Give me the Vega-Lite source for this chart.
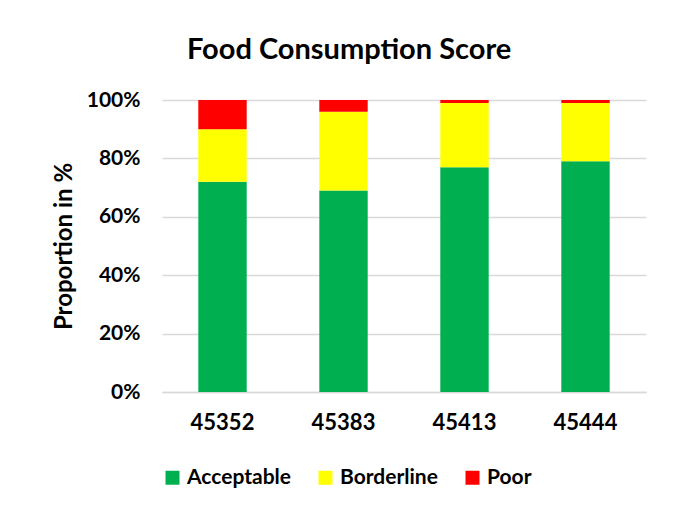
{
  "$schema": "https://vega.github.io/schema/vega-lite/v6.json",
  "autosize": {"type": "none"},
  "width": 484,
  "height": 292,
  "padding": {"left": 162, "top": 100, "right": 33, "bottom": 121},
  "background": "white",
  "title": {
    "text": "Food Consumption Score",
    "font": "Lato",
    "fontSize": 29,
    "fontWeight": "bold",
    "color": "#000000",
    "anchor": "middle",
    "frame": "bounds",
    "offset": 24
  },
  "data": {
    "values": [
      {"month": "45352", "category": "Acceptable", "value": 72},
      {"month": "45352", "category": "Borderline", "value": 18},
      {"month": "45352", "category": "Poor", "value": 10},
      {"month": "45383", "category": "Acceptable", "value": 69},
      {"month": "45383", "category": "Borderline", "value": 27},
      {"month": "45383", "category": "Poor", "value": 4},
      {"month": "45413", "category": "Acceptable", "value": 77},
      {"month": "45413", "category": "Borderline", "value": 22},
      {"month": "45413", "category": "Poor", "value": 1},
      {"month": "45444", "category": "Acceptable", "value": 79},
      {"month": "45444", "category": "Borderline", "value": 20},
      {"month": "45444", "category": "Poor", "value": 1}
    ]
  },
  "mark": {"type": "bar"},
  "encoding": {
    "x": {
      "field": "month",
      "type": "ordinal",
      "scale": {"paddingInner": 0.6, "paddingOuter": 0.3},
      "axis": {
        "title": null,
        "labelAngle": 0,
        "labelFont": "Lato",
        "labelFontSize": 22,
        "labelFontWeight": "bold",
        "labelColor": "#000000",
        "labelPadding": 20,
        "ticks": false,
        "domainColor": "#d9d9d9",
        "domainWidth": 1.5
      }
    },
    "y": {
      "field": "value",
      "type": "quantitative",
      "stack": "zero",
      "scale": {"domain": [0, 100]},
      "axis": {
        "title": "Proportion in %",
        "titleFont": "Lato",
        "titleFontSize": 24,
        "titleFontWeight": "bold",
        "titleColor": "#000000",
        "titlePadding": 10,
        "values": [0, 20, 40, 60, 80, 100],
        "labelExpr": "datum.value + '%'",
        "labelFont": "Lato",
        "labelFontSize": 21,
        "labelFontWeight": "bold",
        "labelColor": "#000000",
        "labelPadding": 22,
        "ticks": false,
        "domain": false,
        "grid": true,
        "gridColor": "#d9d9d9",
        "gridWidth": 1.5
      }
    },
    "color": {
      "field": "category",
      "type": "nominal",
      "scale": {
        "domain": ["Acceptable", "Borderline", "Poor"],
        "range": ["#00B050", "#FFFF00", "#FF0000"]
      },
      "legend": {
        "title": null,
        "orient": "none",
        "direction": "horizontal",
        "legendX": 0,
        "legendY": 367,
        "symbolType": "square",
        "symbolSize": 196,
        "symbolStrokeWidth": 0,
        "labelFont": "Lato",
        "labelFontSize": 21,
        "labelFontWeight": "bold",
        "labelColor": "#000000",
        "labelOffset": 4,
        "columnPadding": 24,
        "padding": 0
      }
    },
    "order": {"field": "category", "sort": "ascending"}
  },
  "config": {"view": {"stroke": null}}
}
